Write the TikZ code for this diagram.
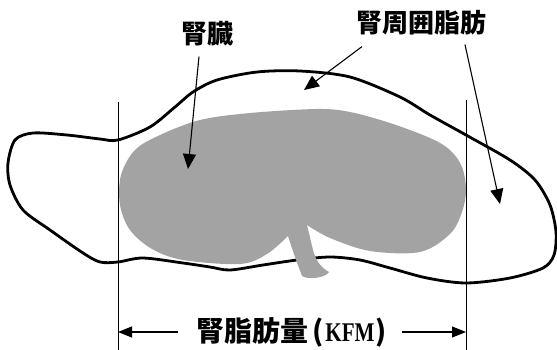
\documentclass[tikz,border=0pt]{standalone}
\usepackage{fontspec}
\newfontfamily\jpfont{Noto Sans CJK JP}
\newfontfamily\latfont[FakeStretch=0.78]{Liberation Serif}
\usepackage{tikz}
\usetikzlibrary{arrows.meta}
\definecolor{kidneygray}{gray}{0.64}
\tikzset{
  kfmlabel/.style={font=\jpfont\bfseries\fontsize{26}{30}\selectfont, inner sep=0pt},
  kfmoutline/.style={line width=2.8pt, line join=round},
  kfmedge/.style={line width=1pt},
  kfmline/.style={-{Triangle[length=15pt,width=13pt]}, line width=1.1pt},
  kfmthin/.style={-{Triangle[length=14pt,width=11pt]}, line width=1.1pt}
}

\begin{document}
\begin{tikzpicture}[x=1pt,y=-1pt]
  \useasboundingbox (0,0) rectangle (557,350);

  % fat boundary
  \draw[kfmoutline] plot[smooth cycle, tension=0.5] coordinates {
    (15,140) (33,133) (67,135) (100,139) (118,140) (150,127) (175,107)
    (193,92) (217,80) (257,72) (300,71) (350,77) (400,97) (430,115)
    (466,135) (510,160) (535,180) (550,205) (556,232) (554,255) (543,268)
    (510,278) (466,283) (427,278) (390,268) (360,260) (330,257) (297,260)
    (263,265) (230,270) (210,267) (183,263) (143,258) (118,262) (100,262)
    (83,253) (50,230) (23,210) (10,185) (8,163)};

  % kidney and hilum
  \fill[kidneygray] plot[smooth, tension=0.55] coordinates {
    (307,225) (330,238) (370,251) (420,252) (450,234) (462,212) (466,190)
    (462,167) (450,150) (430,138) (390,123) (350,112) (317,109) (250,113)
    (200,120) (160,135) (135,150) (121,175) (120,205) (130,230) (152,249)
    (183,260) (240,264) (267,254) (288,236)}
    .. controls (294,255) and (299,268) .. (302,276)
    .. controls (307,280) and (326,278) .. (329,272)
    .. controls (322,268) and (316,262) .. (313,250) -- cycle;

  \draw[kfmedge] (118,102) -- (118,350);
  \draw[kfmedge] (466,100) -- (466,350);

  \node[kfmlabel] (kidneylbl) at (207,34) {腎臓};
  \node[kfmlabel] (fatlbl) at (421,23) {腎周囲脂肪};
  \node[kfmlabel, font=\jpfont\bfseries\fontsize{28}{32}\selectfont, anchor=west]
    (kfmlbl) at (196,332) {腎脂肪量\kern4pt(\kern2pt{\latfont\bfseries\fontsize{27}{30}\selectfont KFM}\kern1pt)};

  \coordinate (kidneytip) at (188,169);
  \coordinate (fattip) at (304,90);
  \coordinate (fattip2) at (500,204);
  \coordinate (kfmleft) at (118,332);
  \coordinate (kfmright) at (466,332);

  \draw[kfmline] ([xshift=-8pt,yshift=-10pt]kidneylbl.south) -- (kidneytip);
  \draw[kfmline] ([xshift=-59pt,yshift=-11pt]fatlbl.south) -- (fattip);
  \draw[kfmline] ([xshift=44pt,yshift=-9pt]fatlbl.south) -- (fattip2);
  \draw[kfmthin] ([xshift=-18pt]kfmlbl.west) -- (kfmleft);
  \draw[kfmthin] ([xshift=15pt]kfmlbl.east) -- (kfmright);
\end{tikzpicture}
\end{document}
